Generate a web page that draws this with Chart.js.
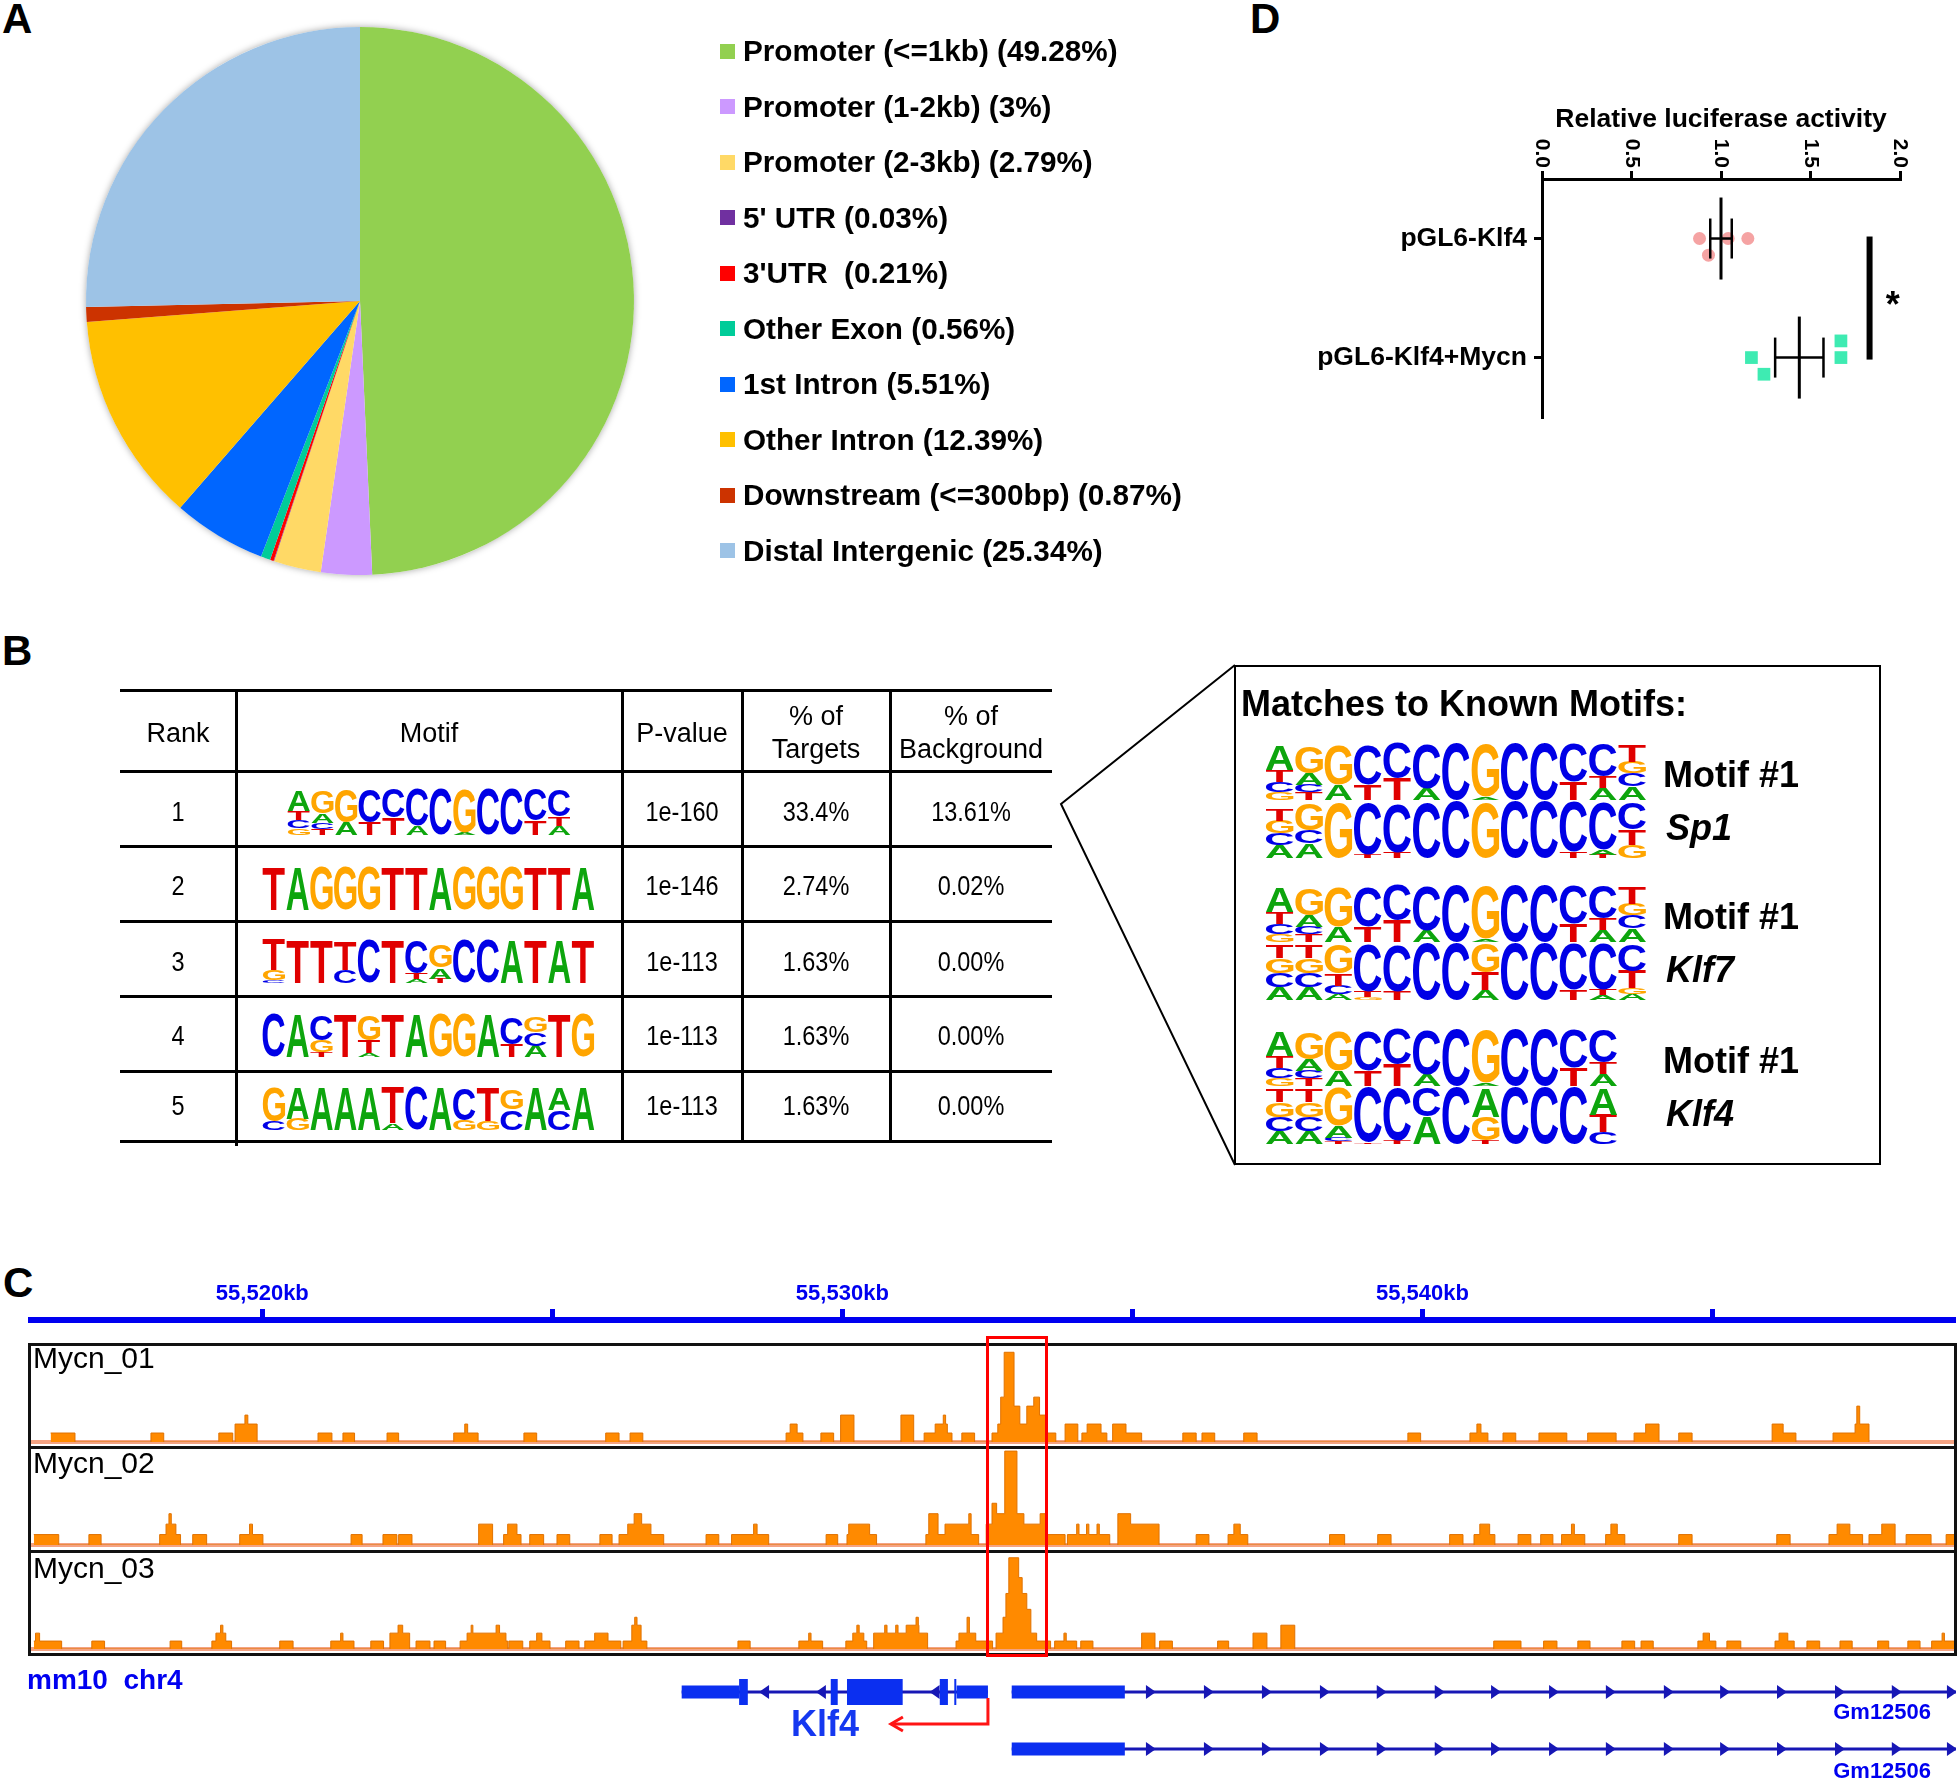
<!DOCTYPE html>
<html>
<head>
<meta charset="utf-8">
<title>Mycn binds the Klf4 promoter</title>
<script src="https://cdn.jsdelivr.net/npm/chart.js@4.4.1/dist/chart.umd.min.js"></script>
<style>
  html, body { margin: 0; padding: 0; background: #fff; }
  #page { position: relative; width: 1960px; height: 1783px; overflow: hidden;
          font-family: "Liberation Sans", Arial, Helvetica, sans-serif; color: #000; }
  #page > * { position: absolute; }
  .letter { font-weight: bold; font-size: 42px; line-height: 42px; }
</style>
</head>
<body>
<div id="page">
  <div class="letter" style="left:2px;top:-2px">A</div>
  <div class="letter" style="left:2px;top:630px">B</div>
  <div class="letter" style="left:3px;top:1262px">C</div>
  <div class="letter" style="left:1250px;top:-2px">D</div>

  <canvas id="pieChart" width="568" height="568" style="left:76px;top:17px"></canvas>
  <canvas id="lucChart" width="670" height="350" style="left:1290px;top:90px"></canvas>

  <svg width="1960" height="1783" style="left:0;top:0;pointer-events:none">
    <polyline points="1235,665 1061,804 1235,1165" fill="none" stroke="#000" stroke-width="2"/>
  </svg>
  <div style="left:1234px;top:665px;width:647px;height:500px;border:2px solid #000;box-sizing:border-box"></div>

  <canvas id="rulerChart" width="1928" height="47" style="left:28px;top:1276px"></canvas>
  <canvas id="track1" width="1928" height="101" style="left:28px;top:1346px"></canvas>
  <canvas id="track2" width="1928" height="101" style="left:28px;top:1449px"></canvas>
  <canvas id="track3" width="1928" height="101" style="left:28px;top:1553px"></canvas>
  <canvas id="geneChart" width="1928" height="123" style="left:28px;top:1660px"></canvas>
</div>

<script>
// ---- A: peak annotation ----
const annoLabels = ['Promoter (<=1kb)', 'Promoter (1-2kb)', 'Promoter (2-3kb)', "5' UTR", "3'UTR ",
  'Other Exon', '1st Intron', 'Other Intron', 'Downstream (<=300bp)', 'Distal Intergenic'];
const annoPercents = [49.28, 3, 2.79, 0.03, 0.21, 0.56, 5.51, 12.39, 0.87, 25.34];
const annoColors = ['#92D050', '#CC99FF', '#FFD966', '#7030A0', '#FF0000',
  '#00CC99', '#0066FF', '#FFC000', '#CC3300', '#9DC3E6'];

// ---- B: de novo motifs ----
const motifRanks = [1, 2, 3, 4, 5];
const motifPvalues = ['1e-160', '1e-146', '1e-113', '1e-113', '1e-113'];
const motifTargets = ['33.4%', '2.74%', '1.63%', '1.63%', '1.63%'];
const motifBackground = ['13.61%', '0.02%', '0.00%', '0.00%', '0.00%'];
// each column: letters top -> bottom, height in % of logo height
const motifLogos = [
  ['A43T20C17G14', 'G46A20C13T13', 'G69A27', 'C69T26', 'C60T37', 'C77A20', 'C97', 'G91A5', 'C97', 'C97', 'C66T31', 'C57T20A20'],
  ['T96', 'A96', 'G96', 'G96', 'G96', 'T96', 'T96', 'A96', 'G96', 'G96', 'G96', 'T96', 'T96', 'A96'],
  ['T68G22C6', 'T96', 'T96', 'T62C28', 'C96', 'T96', 'C72T14A8', 'G48A24T10', 'C96', 'C96', 'A94', 'T96', 'A94', 'T96'],
  ['C96', 'A96', 'C55G26T10', 'T96', 'G55T30A8', 'T96', 'A96', 'G96', 'G96', 'A96', 'C58T28', 'G35C30A25', 'T96', 'G96'],
  ['G75C20', 'A70G25', 'A96', 'A96', 'A96', 'T80A15', 'C96', 'A96', 'C70G22', 'T75G20', 'G45C45', 'A96', 'A50C45', 'A96']
];
const queryLogo = ['A43T20C17G14', 'G46A20C13T13', 'G69A27', 'C69T26', 'C60T37', 'C77A20', 'C97', 'G91A5', 'C97', 'C97', 'C66T31', 'C57T20A20', 'T29G20C23A23'];
const knownNames = ['Sp1', 'Klf7', 'Klf4'];
const knownLogos = [
  ['T19G22C20A22', 'G45C22A25', 'G95', 'C88T6', 'C85T10', 'C95', 'C97', 'G95', 'C97', 'C97', 'C86T10', 'C82A8T6', 'C45T26G23'],
  ['T22G25C25A22', 'T22G25C25A22', 'G50T20C15A10', 'C82T10G5', 'C80T15', 'C97', 'C97', 'G50T30A17', 'C97', 'C97', 'C80T17', 'C80T10A8', 'C45T30G10A10'],
  ['T22G25C25A22', 'T22G25C25A22', 'G65A20C6T5', 'C95T3', 'C90T6', 'C50A47', 'C97', 'A50G40T6', 'C97', 'C97', 'C97', 'A45T30C20']
];
const baseColors = { A: '#0DA50D', C: '#0000E6', G: '#FFA500', T: '#E00000' };

// ---- C: Mycn ChIP-seq coverage, positions in kb past 55,500 kb on chr4 ----
const kbOffset = 55500;
const viewStart = 15.96, viewEnd = 49.20;
const rulerTicks = [20, 25, 30, 35, 40, 45];
const trackNames = ['Mycn_01', 'Mycn_02', 'Mycn_03'];
const trackMax = [10.7, 9.2, 12.1];
const track1 = [
  [16.35,16.77,1],[18.08,18.30,1],[19.25,19.49,1],[19.53,19.91,2],[19.70,19.75,3],[20.96,21.20,1],[21.39,21.59,1],
  [22.15,22.35,1],[23.30,23.72,1],[23.49,23.54,2],[24.51,24.73,1],[25.92,26.15,1],[26.34,26.56,1],[29.03,29.32,1],
  [29.10,29.22,2],[29.63,29.85,1],[29.97,30.20,3],[31.01,31.23,3],[31.41,31.89,1],[31.60,31.81,2],[31.74,31.78,3],
  [32.06,32.28,1],[32.58,32.68,1],[32.68,32.73,2],[32.73,32.79,5],[32.79,32.96,10],[32.96,33.06,4],[33.06,33.18,2],
  [33.18,33.30,4],[33.30,33.40,5],[33.40,33.51,3],[33.51,33.68,1],[33.84,34.06,2],[34.13,34.56,1],[34.22,34.46,2],
  [34.66,34.89,2],[34.89,35.16,1],[35.87,36.10,1],[36.20,36.42,1],[36.92,37.15,1],[39.75,39.97,1],[40.82,41.13,1],
  [40.94,41.01,2],[41.39,41.61,1],[42.01,42.49,1],[42.85,43.34,1],[43.65,44.08,1],[43.85,44.08,2],[44.42,44.65,1],
  [46.03,46.22,2],[46.22,46.44,1],[47.08,47.70,1],[47.46,47.70,2],[47.49,47.54,4]
];
const track2 = [
  [16.06,16.49,1],[17.01,17.22,1],[18.23,18.59,1],[18.34,18.51,2],[18.39,18.43,3],[18.80,19.04,1],[19.61,20.01,1],
  [19.78,19.83,2],[21.53,21.72,1],[22.08,22.32,1],[22.35,22.58,1],[23.73,23.97,2],[24.16,24.46,1],[24.23,24.39,2],
  [24.61,24.85,1],[25.08,25.30,1],[25.82,26.03,1],[26.15,26.92,1],[26.30,26.70,2],[26.41,26.54,3],[27.65,27.87,1],
  [28.09,28.73,1],[28.47,28.53,2],[29.72,29.92,1],[30.08,30.59,1],[30.11,30.47,2],[31.44,32.35,1],[31.49,31.65,3],
  [31.77,32.20,2],[32.18,32.22,3],[32.48,32.58,2],[32.58,32.66,4],[32.66,32.80,3],[32.80,33.01,9],[33.01,33.13,3],
  [33.13,33.41,2],[33.41,33.51,3],[33.51,33.84,1],[33.88,34.61,1],[34.04,34.08,2],[34.21,34.25,2],[34.39,34.43,2],
  [34.75,34.97,3],[34.97,35.46,2],[36.10,36.32,1],[36.65,36.99,1],[36.75,36.86,2],[38.40,38.66,1],[39.23,39.46,1],
  [40.47,40.70,1],[40.89,41.25,1],[40.99,41.16,2],[41.65,41.87,1],[42.04,42.25,1],[42.40,42.80,1],[42.57,42.62,2],
  [43.16,43.49,1],[43.25,43.36,2],[44.42,44.65,1],[46.11,46.34,1],[47.01,47.59,1],[47.15,47.37,2],[47.70,48.15,1],
  [47.92,48.15,2],[48.34,48.77,1],[49.03,49.18,1]
];
const track3 = [
  [16.06,16.54,1],[16.09,16.16,2],[17.06,17.28,1],[18.41,18.61,1],[19.13,19.47,1],[19.20,19.37,2],[19.28,19.32,3],
  [20.30,20.53,1],[21.18,21.58,1],[21.35,21.39,2],[21.87,22.09,1],[22.20,22.54,2],[22.34,22.42,3],[22.65,22.89,1],
  [22.96,23.16,1],[23.41,24.23,1],[23.53,24.20,2],[23.60,23.63,3],[24.03,24.09,3],[24.25,24.49,1],[24.61,24.96,1],
  [24.73,24.82,2],[25.23,25.46,1],[25.56,26.18,1],[25.73,25.96,2],[26.22,26.63,1],[26.37,26.53,3],[26.42,26.46,4],
  [28.20,28.41,1],[29.25,29.66,1],[29.42,29.46,2],[30.06,30.42,1],[30.18,30.37,2],[30.25,30.29,3],[30.54,31.11,2],
  [30.73,30.77,3],[30.92,30.96,3],[31.10,31.32,3],[31.27,31.31,4],[31.32,31.47,2],[31.96,32.39,1],[32.01,32.30,2],
  [32.15,32.19,4],[32.39,32.59,1],[32.65,32.77,2],[32.77,32.82,4],[32.82,32.87,7],[32.87,33.04,11.5],[33.04,33.10,9],
  [33.10,33.18,7],[33.18,33.25,5],[33.25,33.35,2],[33.35,33.59,1],[33.66,34.04,1],[33.82,33.86,2],[34.11,34.32,1],
  [35.16,35.39,2],[35.47,35.69,1],[36.47,36.66,1],[37.08,37.32,2],[37.56,37.80,3],[41.23,41.70,1],[42.09,42.32,1],
  [42.68,42.89,1],[43.44,43.66,1],[43.77,43.98,1],[44.75,45.06,1],[44.84,44.95,2],[45.25,45.49,1],[46.08,46.41,1],
  [46.15,46.30,2],[46.63,46.85,1],[47.20,47.41,1],[47.85,48.04,1],[48.37,48.58,1],[48.78,49.18,1],[48.96,49.00,2]
];
const highlightKb = [32.47, 33.54];
// gene models: [start, end, coding(1)/utr(0)]
const klf4Span = [27.23, 32.51];
const klf4Exons = [[27.23,28.22,0],[28.22,28.37,1],[29.80,29.92,1],[30.08,31.04,1],[31.68,31.82,1],[31.93,31.95,1],[31.97,32.51,0]];
const klf4Arrows = [28.65, 29.63, 31.59];
const klf4Tss = 32.51, klf4TssTo = 30.82;
const gmSpan = [32.92, 49.20];
const gmExons = [[32.92,34.87,0]];
const gmArrows = [35.32, 36.32, 37.32, 38.32, 39.30, 40.30, 41.27, 42.27, 43.25, 44.25, 45.22, 46.20, 47.20, 48.18, 49.13];

// ---- D: luciferase reporter ----
const lucGroups = ['pGL6-Klf4', 'pGL6-Klf4+Mycn'];
const lucKlf4 = [0.88, 1.04, 1.15, 0.93];
const lucKlf4Mycn = [1.17, 1.24, 1.67, 1.67];
const lucJitterKlf4 = [0, 0, 0, 1];
const lucJitterMycn = [0, 1, -1, 0];
const lucSigX = 1.83;

const FONT = '"Liberation Sans", Arial, Helvetica, sans-serif';
Chart.defaults.font.family = FONT;
Chart.defaults.color = '#000';

const page = document.getElementById('page');

// absolutely placed text / box
function addDiv(left, top, css, text) {
  const d = document.createElement('div');
  d.style.cssText = 'left:' + left + 'px;top:' + top + 'px;' + (css || '');
  if (text !== undefined) d.textContent = text;
  page.appendChild(d);
  return d;
}

// sequence logo on a plain canvas
function drawLogo(left, top, width, height, cols) {
  const c = document.createElement('canvas');
  c.width = width; c.height = height;
  c.style.left = left + 'px'; c.style.top = top + 'px';
  page.appendChild(c);
  const ctx = c.getContext('2d');
  const colW = width / cols.length;
  ctx.font = 'bold 100px ' + FONT;
  cols.forEach((col, i) => {
    const parts = [...col.matchAll(/([ACGT])([\d.]+)/g)].map(m => [m[1], +m[2] / 100]);
    let y = height;
    for (let k = parts.length - 1; k >= 0; k--) {
      const base = parts[k][0];
      const h = parts[k][1] * height;
      const m = ctx.measureText(base);
      const gw = m.actualBoundingBoxLeft + m.actualBoundingBoxRight;
      const gh = m.actualBoundingBoxAscent + m.actualBoundingBoxDescent;
      ctx.save();
      ctx.translate(i * colW + colW * 0.03, y - h);
      ctx.scale(colW * 0.94 / gw, h / gh);
      ctx.fillStyle = baseColors[base];
      ctx.fillText(base, m.actualBoundingBoxLeft, m.actualBoundingBoxAscent);
      ctx.restore();
      y -= h;
    }
  });
}

// ===== A: pie + legend =====
const pieShadow = {
  id: 'pieShadow',
  beforeDatasetsDraw(chart) {
    const arc = chart.getDatasetMeta(0).data[0];
    const ctx = chart.ctx;
    ctx.save();
    ctx.shadowColor = 'rgba(0,0,0,0.35)';
    ctx.shadowBlur = 7;
    ctx.fillStyle = '#fff';
    ctx.beginPath();
    ctx.arc(arc.x, arc.y, arc.outerRadius, 0, Math.PI * 2);
    ctx.fill();
    ctx.restore();
  }
};

new Chart(document.getElementById('pieChart'), {
  type: 'pie',
  data: { labels: annoLabels, datasets: [{ data: annoPercents, backgroundColor: annoColors, borderWidth: 0 }] },
  options: {
    responsive: false, animation: false,
    layout: { padding: 10 },
    plugins: { legend: { display: false }, tooltip: { enabled: false } }
  },
  plugins: [pieShadow]
});

annoLabels.forEach((lab, i) => {
  const cy = 51 + i * 55.5;
  addDiv(720, cy - 7.5, 'width:15px;height:15px;background:' + annoColors[i]);
  addDiv(743, cy, 'transform:translateY(-50%);font-weight:bold;font-size:29.7px;line-height:34px;white-space:pre',
    lab + ' (' + annoPercents[i] + '%)');
});

// ===== B: motif table =====
const rowLines = [690, 771, 846, 921, 996, 1071, 1141];
rowLines.forEach(y => addDiv(120, y - 1.5, 'width:932px;height:3px;background:#000'));
[236, 622, 742, 890].forEach((x, i) => {
  addDiv(x - 1.5, 690, 'width:3px;background:#000;height:' + (i === 0 ? 456 : 451) + 'px');
});
const cellCss = 'transform:translate(-50%,-50%);font-size:27px;line-height:33px;text-align:center;white-space:pre';
const numCss = 'transform:translate(-50%,-50%) scaleX(0.87);font-size:27px;line-height:33px;text-align:center;white-space:pre';
const colCenters = [178, 429, 682, 816, 971];
['Rank', 'Motif', 'P-value', '% of\nTargets', '% of\nBackground'].forEach((t, i) => addDiv(colCenters[i], 733, cellCss, t));
const rowCenters = [812, 886, 962, 1036, 1106];
motifRanks.forEach((r, i) => {
  addDiv(colCenters[0], rowCenters[i], numCss, String(r));
  addDiv(colCenters[2], rowCenters[i], numCss, motifPvalues[i]);
  addDiv(colCenters[3], rowCenters[i], numCss, motifTargets[i]);
  addDiv(colCenters[4], rowCenters[i], numCss, motifBackground[i]);
});
drawLogo(287, 788, 284, 47, motifLogos[0]);
[865, 938, 1012, 1085].forEach((top, i) => drawLogo(262, top, 333, 45, motifLogos[i + 1]));

// known motif matches
addDiv(1241, 704, 'transform:translateY(-50%);font-weight:bold;font-size:36px;white-space:nowrap', 'Matches to Known Motifs:');
const pairTops = [742, 884, 1028];
knownNames.forEach((name, k) => {
  const cols = knownLogos[k].length;
  const w = Math.round(cols * 29.4);
  drawLogo(1265, pairTops[k], w, 58, queryLogo.slice(0, cols));
  drawLogo(1265, pairTops[k] + 58, w, 58, knownLogos[k]);
  addDiv(1663, pairTops[k] + 33, 'transform:translateY(-50%);font-weight:bold;font-size:36px;white-space:nowrap', 'Motif #1');
  addDiv(1666, pairTops[k] + 86, 'transform:translateY(-50%);font-weight:bold;font-style:italic;font-size:36px', name);
});

// ===== D: luciferase =====
function meanSem(arr) {
  const m = arr.reduce((a, b) => a + b, 0) / arr.length;
  const sd = Math.sqrt(arr.reduce((a, b) => a + (b - m) * (b - m), 0) / (arr.length - 1));
  return [m, sd / Math.sqrt(arr.length)];
}

const lucPlugin = {
  id: 'lucExtras',
  afterDatasetsDraw(chart) {
    const { ctx, scales: { x, y } } = chart;
    const seg = (x1, y1, x2, y2) => { ctx.beginPath(); ctx.moveTo(x1, y1); ctx.lineTo(x2, y2); ctx.stroke(); };
    ctx.save();
    ctx.strokeStyle = '#000';
    [lucKlf4, lucKlf4Mycn].forEach((vals, g) => {
      const [m, sem] = meanSem(vals);
      const py = y.getPixelForValue(g + 1);
      const xm = x.getPixelForValue(m);
      const xl = x.getPixelForValue(m - sem), xr = x.getPixelForValue(m + sem);
      ctx.lineWidth = 3;
      seg(xm, py - 41, xm, py + 41);
      ctx.lineWidth = 2.5;
      seg(xl, py, xr, py);
      seg(xl, py - 20, xl, py + 20);
      seg(xr, py - 20, xr, py + 20);
    });
    // significance bar + star
    const sx = x.getPixelForValue(lucSigX);
    ctx.lineWidth = 6;
    seg(sx, y.getPixelForValue(1) - 2, sx, y.getPixelForValue(2) + 2);
    ctx.fillStyle = '#000';
    ctx.font = 'bold 36px ' + FONT;
    ctx.textAlign = 'center';
    ctx.textBaseline = 'middle';
    ctx.fillText('*', x.getPixelForValue(1.96), y.getPixelForValue(1.5) + 9);
    ctx.restore();
  },
  afterDraw(chart) {
    // rotated x tick labels, reading top to bottom
    const { ctx, scales: { x } } = chart;
    ctx.save();
    ctx.fillStyle = '#000';
    ctx.font = 'bold 21px ' + FONT;
    ctx.textAlign = 'right';
    ctx.textBaseline = 'middle';
    x.ticks.forEach(t => {
      ctx.save();
      ctx.translate(x.getPixelForValue(t.value), x.bottom - 11);
      ctx.rotate(Math.PI / 2);
      ctx.fillText(t.value.toFixed(1), 0, 0);
      ctx.restore();
    });
    ctx.restore();
  }
};

new Chart(document.getElementById('lucChart'), {
  type: 'scatter',
  data: {
    datasets: [
      { data: lucKlf4.map((v, i) => ({ x: v, y: 1 + lucJitterKlf4[i] * 0.14 })),
        pointStyle: 'circle', pointRadius: 6.5, backgroundColor: '#F5A3A3', borderWidth: 0 },
      { data: lucKlf4Mycn.map((v, i) => ({ x: v, y: 2 + lucJitterMycn[i] * 0.14 })),
        pointStyle: 'rect', pointRadius: 9, backgroundColor: '#3EEBB2', borderWidth: 0 }
    ]
  },
  options: {
    responsive: false, animation: false,
    layout: { padding: { left: 0, right: 60, top: 0, bottom: 21 } },
    plugins: { legend: { display: false }, tooltip: { enabled: false } },
    scales: {
      x: {
        type: 'linear', position: 'top', min: 0, max: 2,
        ticks: { stepSize: 0.5, display: false },
        grid: { display: true, drawOnChartArea: false, drawTicks: true, tickLength: 8, color: '#000', lineWidth: 3 },
        border: { display: true, color: '#000', width: 3 },
        title: { display: true, text: 'Relative luciferase activity', color: '#000',
                 font: { size: 26.5, weight: 'bold' }, padding: { top: 14, bottom: 0 } },
        afterFit(s) { s.height = 89; }
      },
      y: {
        type: 'linear', min: 0.5, max: 2.5, reverse: true,
        afterBuildTicks(s) { s.ticks = [{ value: 1 }, { value: 2 }]; },
        ticks: { callback: v => lucGroups[Math.round(v) - 1] || '', font: { size: 26.5, weight: 'bold' }, color: '#000', padding: 7 },
        grid: { display: true, drawOnChartArea: false, drawTicks: true, tickLength: 8, color: '#000', lineWidth: 3 },
        border: { display: true, color: '#000', width: 3 },
        afterFit(s) { s.width = 252; }
      }
    }
  },
  plugins: [lucPlugin]
});

// ===== C: genome browser =====
// turn overlapping [start, end, height] blocks into a step profile
function coverageSteps(segs) {
  const edges = [...new Set(segs.flatMap(s => [s[0], s[1]]))].sort((a, b) => a - b);
  return edges.map((a, i) => {
    const b = edges[i + 1];
    let h = 0;
    if (b !== undefined) {
      const mid = (a + b) / 2;
      segs.forEach(s => { if (s[0] <= mid && mid < s[1]) h = Math.max(h, s[2]); });
    }
    return { x: a, y: h };
  });
}

const blue = '#0000F0';
new Chart(document.getElementById('rulerChart'), {
  type: 'scatter',
  data: { datasets: [] },
  options: {
    responsive: false, animation: false,
    layout: { padding: 0 },
    plugins: { legend: { display: false }, tooltip: { enabled: false } },
    scales: {
      x: {
        type: 'linear', position: 'top', min: viewStart, max: viewEnd,
        afterBuildTicks(s) { s.ticks = rulerTicks.map(v => ({ value: v })); },
        afterFit(s) { s.height = 44; },
        ticks: {
          callback: v => (v % 10 === 0 ? (kbOffset + v).toLocaleString('en-US') + 'kb' : ''),
          font: { size: 22, weight: 'bold' }, color: blue, padding: 2, maxRotation: 0, autoSkip: false
        },
        grid: { display: true, drawOnChartArea: false, drawTicks: true, tickLength: 11, color: blue, lineWidth: 5 },
        border: { display: true, color: blue, width: 6 }
      },
      y: { display: false }
    }
  }
});

const baselinePlugin = {
  id: 'baseline',
  beforeDatasetsDraw(chart) {
    const { ctx, chartArea, scales: { y } } = chart;
    const py = y.getPixelForValue(0);
    ctx.save();
    ctx.strokeStyle = '#F4A383';
    ctx.lineWidth = 4;
    ctx.beginPath();
    ctx.moveTo(chartArea.left, py);
    ctx.lineTo(chartArea.right, py);
    ctx.stroke();
    ctx.restore();
  }
};

const trackCharts = [track1, track2, track3].map((segs, i) => new Chart(document.getElementById('track' + (i + 1)), {
  type: 'line',
  data: { datasets: [{ data: coverageSteps(segs), stepped: true, fill: 'origin',
    backgroundColor: '#FF8A00', borderColor: '#E07200', borderWidth: 1, pointRadius: 0 }] },
  options: {
    responsive: false, animation: false,
    layout: { padding: { left: 0, right: 0, top: 0, bottom: 5 } },
    plugins: { legend: { display: false }, tooltip: { enabled: false } },
    scales: {
      x: { type: 'linear', min: viewStart, max: viewEnd, display: false },
      y: { min: 0, max: trackMax[i], display: false }
    }
  },
  plugins: [baselinePlugin]
}));

// track frames and names
addDiv(28, 1343, 'width:1929px;height:313px;border:3px solid #111;box-sizing:border-box');
addDiv(28, 1446, 'width:1929px;height:3px;background:#111');
addDiv(28, 1550, 'width:1929px;height:3px;background:#111');
[1358, 1463, 1568].forEach((cy, i) => addDiv(33, cy, 'transform:translateY(-50%);font-size:30px;line-height:34px', trackNames[i]));

// red highlight around the Klf4 promoter peak
const tx = trackCharts[0].scales.x;
const hl = tx.getPixelForValue(highlightKb[0]), hr = tx.getPixelForValue(highlightKb[1]);
addDiv(28 + hl, 1336, 'width:' + (hr - hl) + 'px;height:321px;border:3px solid #F00;box-sizing:border-box');

addDiv(27, 1680, 'transform:translateY(-50%);font-weight:bold;font-size:28px;color:' + blue + ';white-space:pre', 'mm10  chr4');

const exonColor = '#0B2FF0', intronColor = '#1717B5';
function drawGene(ctx, x, y, span, exons, arrows, dir) {
  ctx.strokeStyle = intronColor;
  ctx.lineWidth = 3;
  ctx.beginPath();
  ctx.moveTo(x.getPixelForValue(span[0]), y);
  ctx.lineTo(x.getPixelForValue(span[1]), y);
  ctx.stroke();
  ctx.fillStyle = intronColor;
  arrows.forEach(a => {
    const px = x.getPixelForValue(a);
    ctx.beginPath();
    ctx.moveTo(px + dir * 5, y);
    ctx.lineTo(px - dir * 5, y - 7);
    ctx.lineTo(px - dir * 5, y + 7);
    ctx.closePath();
    ctx.fill();
  });
  ctx.fillStyle = exonColor;
  exons.forEach(e => {
    const x1 = x.getPixelForValue(e[0]), x2 = x.getPixelForValue(e[1]);
    const h = e[2] ? 26 : 13;
    ctx.fillRect(x1, y - h / 2, Math.max(2, x2 - x1), h);
  });
}

const genePlugin = {
  id: 'genes',
  afterDraw(chart) {
    const { ctx, chartArea, scales: { x } } = chart;
    const top = chartArea.top;
    ctx.save();
    drawGene(ctx, x, top + 32, klf4Span, klf4Exons, klf4Arrows, -1);
    drawGene(ctx, x, top + 32, gmSpan, gmExons, gmArrows, 1);
    drawGene(ctx, x, top + 89, gmSpan, gmExons, gmArrows, 1);
    // TSS arrow
    const t0 = x.getPixelForValue(klf4Tss), t1 = x.getPixelForValue(klf4TssTo);
    ctx.strokeStyle = '#FF1414';
    ctx.lineWidth = 3;
    ctx.beginPath();
    ctx.moveTo(t0, top + 38); ctx.lineTo(t0, top + 64); ctx.lineTo(t1 + 1, top + 64);
    ctx.stroke();
    ctx.beginPath();
    ctx.moveTo(t1 + 13, top + 57); ctx.lineTo(t1 + 1, top + 64); ctx.lineTo(t1 + 13, top + 71);
    ctx.stroke();
    // gene names
    ctx.fillStyle = '#1538F0';
    ctx.font = 'bold 36px ' + FONT;
    ctx.textAlign = 'center';
    ctx.textBaseline = 'middle';
    ctx.fillText('Klf4', x.getPixelForValue(29.70), top + 66);
    ctx.fillStyle = blue;
    ctx.font = 'bold 22px ' + FONT;
    ctx.textAlign = 'right';
    ctx.fillText('Gm12506', x.getPixelForValue(48.77), top + 53);
    ctx.fillText('Gm12506', x.getPixelForValue(48.77), top + 112);
    ctx.restore();
  }
};

new Chart(document.getElementById('geneChart'), {
  type: 'scatter',
  data: { datasets: [] },
  options: {
    responsive: false, animation: false,
    layout: { padding: 0 },
    plugins: { legend: { display: false }, tooltip: { enabled: false } },
    scales: {
      x: { type: 'linear', min: viewStart, max: viewEnd, display: false },
      y: { min: 0, max: 1, display: false }
    }
  },
  plugins: [genePlugin]
});
</script>
</body>
</html>
